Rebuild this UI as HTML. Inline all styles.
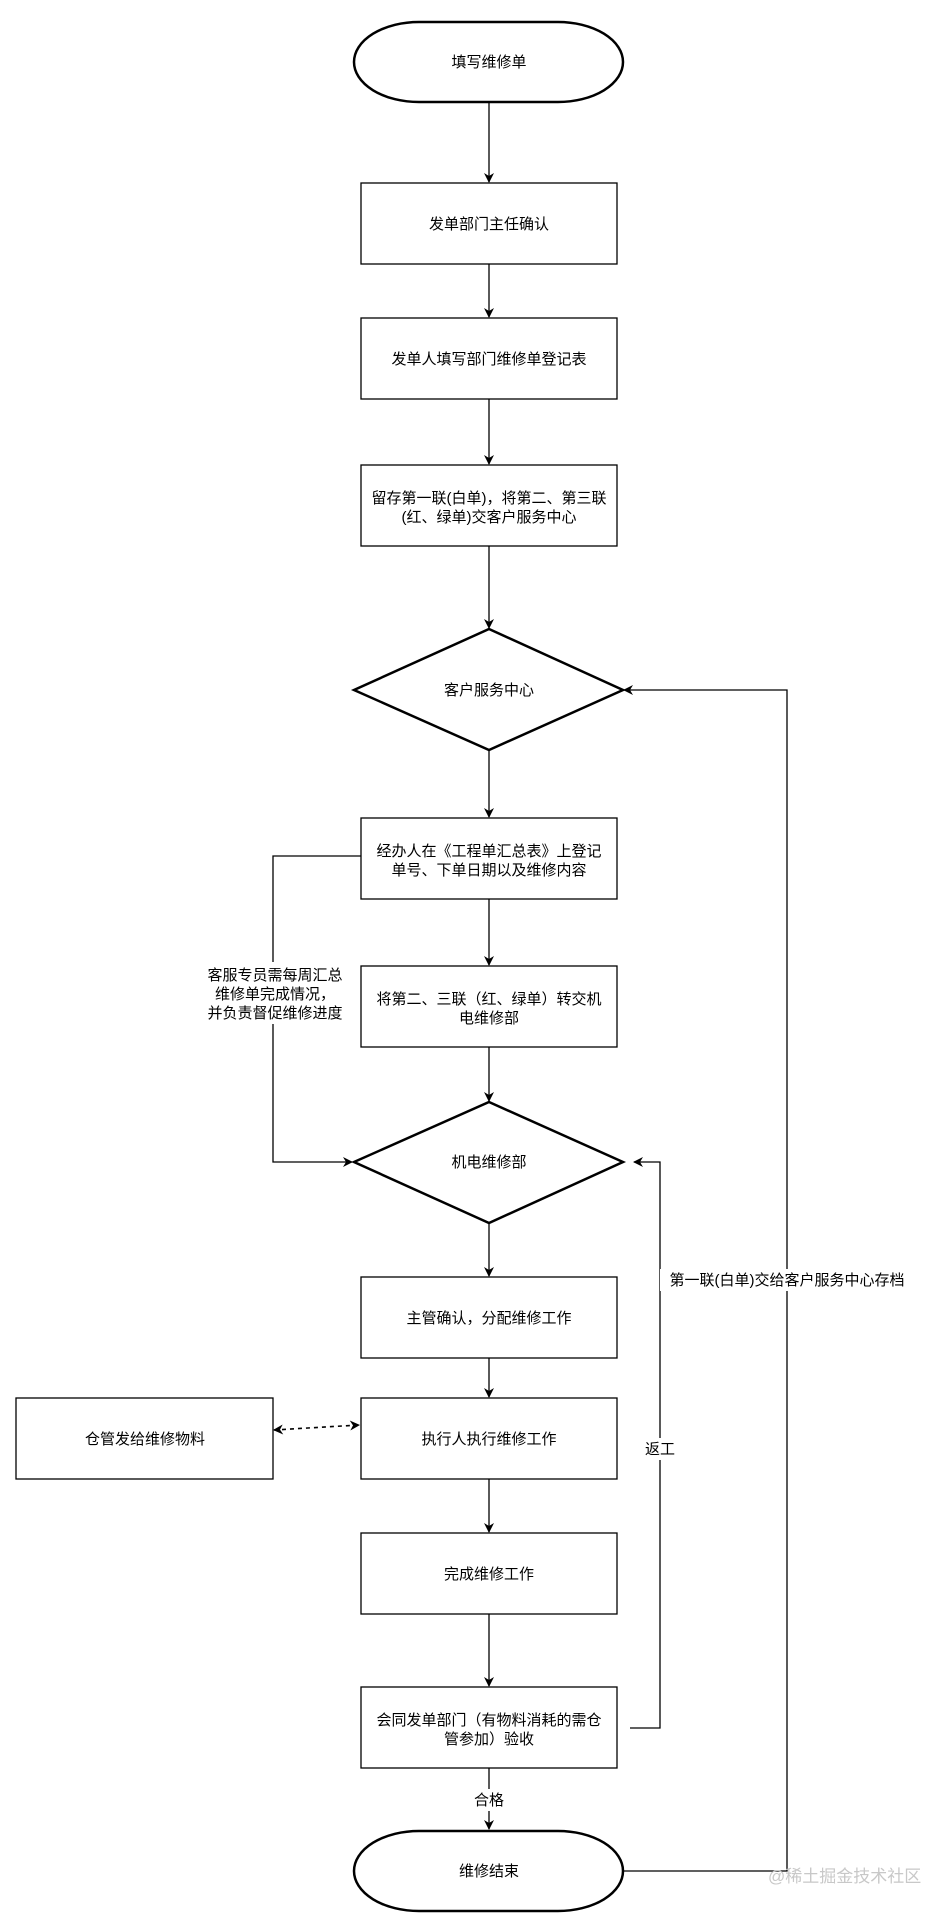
<!DOCTYPE html>
<html><head><meta charset="utf-8"><style>
html,body{margin:0;padding:0;background:#fff;}
svg{display:block;}
text{font-family:"Liberation Sans","Noto Sans CJK SC",sans-serif;font-size:15px;fill:#000;}
</style></head><body>
<svg width="952" height="1920" viewBox="0 0 952 1920" xmlns="http://www.w3.org/2000/svg">
<defs>
<marker id="a" viewBox="0 0 10 10" refX="9" refY="5" markerWidth="10" markerHeight="10" markerUnits="userSpaceOnUse" orient="auto-start-reverse">
<path d="M0,0 L10,5 L0,10 L3,5 Z" fill="#000"/>
</marker>
</defs>
<g fill="none" stroke="#000" stroke-width="1.3">
<line x1="489" y1="102" x2="489" y2="182" marker-end="url(#a)"/>
<line x1="489" y1="264" x2="489" y2="317" marker-end="url(#a)"/>
<line x1="489" y1="399" x2="489" y2="464" marker-end="url(#a)"/>
<line x1="489" y1="546" x2="489" y2="628" marker-end="url(#a)"/>
<line x1="489" y1="750" x2="489" y2="817" marker-end="url(#a)"/>
<line x1="489" y1="899" x2="489" y2="965" marker-end="url(#a)"/>
<line x1="489" y1="1047" x2="489" y2="1101" marker-end="url(#a)"/>
<line x1="489" y1="1223" x2="489" y2="1276" marker-end="url(#a)"/>
<line x1="489" y1="1358" x2="489" y2="1397" marker-end="url(#a)"/>
<line x1="489" y1="1479" x2="489" y2="1532" marker-end="url(#a)"/>
<line x1="489" y1="1614" x2="489" y2="1686" marker-end="url(#a)"/>
<line x1="489" y1="1768" x2="489" y2="1829" marker-end="url(#a)"/>
<polyline points="361,856 273,856 273,1162 352,1162" marker-end="url(#a)"/>
<polyline points="623,1871 787,1871 787,690 624,690" marker-end="url(#a)"/>
<polyline points="630,1728 660,1728 660,1162 634,1162" marker-end="url(#a)"/>
<line x1="274" y1="1430" x2="359" y2="1425" stroke-dasharray="4,4" stroke-width="1.6" marker-start="url(#a)" marker-end="url(#a)"/>
</g>
<g fill="#fff" stroke="#000" stroke-width="1.3">
<rect x="361" y="183" width="256" height="81"/>
<rect x="361" y="318" width="256" height="81"/>
<rect x="361" y="465" width="256" height="81"/>
<rect x="361" y="818" width="256" height="81"/>
<rect x="361" y="966" width="256" height="81"/>
<rect x="361" y="1277" width="256" height="81"/>
<rect x="361" y="1398" width="256" height="81"/>
<rect x="16" y="1398" width="257" height="81"/>
<rect x="361" y="1533" width="256" height="81"/>
<rect x="361" y="1687" width="256" height="81"/>
</g>
<g fill="#fff" stroke="#000" stroke-width="2.5">
<rect x="354" y="22" width="269" height="80" rx="65" ry="40"/>
<rect x="354" y="1831" width="269" height="80" rx="65" ry="40"/>
<polygon points="489,629 623,690 489,750 354,690"/>
<polygon points="489,1102 623,1162 489,1223 354,1162"/>
</g>
<rect x="200" y="962" width="150" height="62" fill="#fff"/>
<rect x="660" y="1269" width="260" height="22" fill="#fff"/>
<rect x="643" y="1438" width="34" height="22" fill="#fff"/>
<rect x="470" y="1789" width="38" height="22" fill="#fff"/>
<g text-anchor="middle">
<text x="489" y="67">填写维修单</text>
<text x="489" y="229">发单部门主任确认</text>
<text x="489" y="364">发单人填写部门维修单登记表</text>
<text x="489" y="503">留存第一联(白单)，将第二、第三联</text>
<text x="489" y="522">(红、绿单)交客户服务中心</text>
<text x="489" y="695">客户服务中心</text>
<text x="489" y="856">经办人在《工程单汇总表》上登记</text>
<text x="489" y="875">单号、下单日期以及维修内容</text>
<text x="489" y="1004">将第二、三联（红、绿单）转交机</text>
<text x="489" y="1023">电维修部</text>
<text x="489" y="1167">机电维修部</text>
<text x="489" y="1323">主管确认，分配维修工作</text>
<text x="489" y="1444">执行人执行维修工作</text>
<text x="145" y="1444">仓管发给维修物料</text>
<text x="489" y="1579">完成维修工作</text>
<text x="489" y="1725">会同发单部门（有物料消耗的需仓</text>
<text x="489" y="1744">管参加）验收</text>
<text x="489" y="1876">维修结束</text>
<text x="275" y="980">客服专员需每周汇总</text>
<text x="275" y="999">维修单完成情况，</text>
<text x="275" y="1018">并负责督促维修进度</text>
<text x="787" y="1285">第一联(白单)交给客户服务中心存档</text>
<text x="660" y="1454">返工</text>
<text x="489" y="1805">合格</text>
</g>
<text x="768" y="1882" style="fill:#c8c8c8;font-size:17px">@稀土掘金技术社区</text>
</svg>
</body></html>
